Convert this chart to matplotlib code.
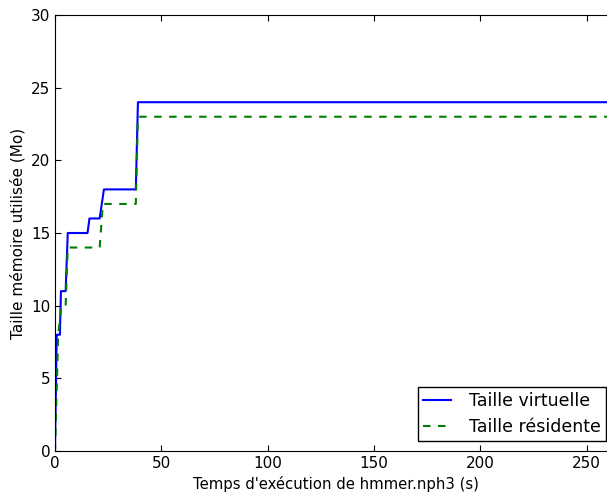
import matplotlib
matplotlib.use("Agg")
import matplotlib.pyplot as plt

plt.rcParams['lines.scale_dashes'] = False

t_virt = [0, 0.8, 2.3, 2.8, 5, 6, 15.3, 16.2, 21, 23, 38, 39, 264]
v_virt = [0, 8, 8, 11, 11, 15, 15, 16, 16, 18, 18, 24, 24]
t_res = [0, 1.5, 3, 5, 6, 21, 22.5, 38, 39, 264]
v_res = [0, 8, 10, 10, 14, 14, 17, 17, 23, 23]

fig = plt.figure(figsize=(6.07, 4.95), dpi=100)
ax = fig.add_axes([55/607, 44/495, (616-55)/607, (451-15)/495])
ax.plot(t_virt, v_virt, color='#0000ff', lw=1.5, label='Taille virtuelle')
ax.plot(t_res, v_res, color='#008000', lw=1.5, ls=(0, (5.4, 5.4)), label='Taille résidente')
ax.set_xlim(0, 263.8)
ax.set_ylim(0, 30)
ax.set_xticks([0, 50, 100, 150, 200, 250])
ax.set_yticks([0, 5, 10, 15, 20, 25, 30])
ax.tick_params(direction='in', top=True, right=True, labelsize=11, length=4.5)
ax.set_xlabel("Temps d'exécution de hmmer.nph3 (s)", fontsize=10.7)
ax.set_ylabel("Taille mémoire utilisée (Mo)", fontsize=11)
leg = ax.legend(loc='lower right', fontsize=12.5, fancybox=False, framealpha=1,
                edgecolor='black', borderaxespad=0.55, handlelength=1.6,
                handletextpad=1.05, borderpad=0.3, labelspacing=0.47)
leg.get_frame().set_linewidth(1.0)
fig.savefig('out.png', dpi=100)
